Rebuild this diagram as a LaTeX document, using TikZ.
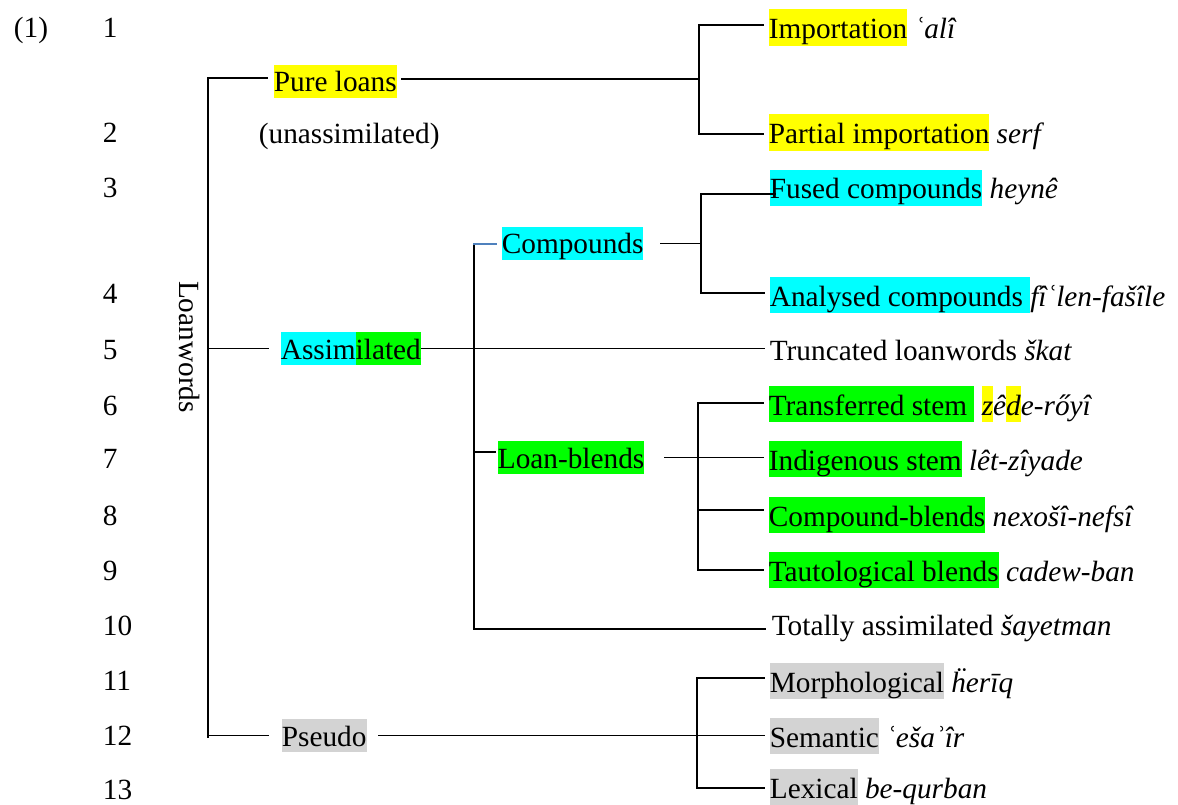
\documentclass[tikz,border=0pt]{standalone}
\usepackage{fontspec}
\setmainfont{Liberation Serif}

\definecolor{hlyellow}{HTML}{FFFF00}
\definecolor{hlcyan}{HTML}{00FFFF}
\definecolor{hlgreen}{HTML}{00FF00}
\definecolor{hlgray}{HTML}{D3D3D3}
\definecolor{stubblue}{HTML}{4F81BD}

% highlight boxes (leaves and inner labels)
\newcommand{\hl}[2]{{\setlength{\fboxsep}{0pt}\colorbox{#1}{\rule[-0.25em]{0pt}{1.25em}#2}}}
\newcommand{\hlmid}[2]{{\setlength{\fboxsep}{0pt}\colorbox{#1}{\rule[-0.2em]{0pt}{1.12em}#2}}}

\begin{document}
\begin{tikzpicture}[x=1pt, y=-1pt, line width=1.7pt, line cap=rect,
  every node/.style={font=\fontsize{29.3}{35}\selectfont, inner sep=0pt},
  txt/.style={anchor=base west},
  branch/.style={shorten >=5pt},
  bluestub/.style={draw=stubblue, line width=1.3pt}]

  \useasboundingbox (0,0) rectangle (1178,805);

  % Example number and row numbers
  \node[txt] (ex)  at (13,38)  {(1)};
  \node[txt] (r1)  at (102,38)  {1};
  \node[txt] (r2)  at (102,143) {2};
  \node[txt] (r3)  at (102,198) {3};
  \node[txt] (r4)  at (102,303) {4};
  \node[txt] (r5)  at (102,359) {5};
  \node[txt] (r6)  at (102,415) {6};
  \node[txt] (r7)  at (102,468) {7};
  \node[txt] (r8)  at (102,525) {8};
  \node[txt] (r9)  at (102,580) {9};
  \node[txt] (r10) at (102,635) {10};
  \node[txt] (r11) at (102,690) {11};
  \node[txt] (r12) at (102,745) {12};
  \node[txt] (r13) at (102,799) {13};

  % Root
  \node[rotate=-90] (lw) at (190,347) {Loanwords};

  % First level
  \node[txt] (pure)    at (273,92)  {\hlmid{hlyellow}{Pure loans}};
  \node[txt] (unassim) at (258,144) {(unassimilated)};
  \node[txt] (assim)   at (280,359) {\hlmid{hlcyan}{Assim}\hlmid{hlgreen}{ilated}};
  \node[txt] (pseudo)  at (281,746) {\hlmid{hlgray}{Pseudo}};

  % Second level
  \node[txt] (comp)  at (501,254) {\hlmid{hlcyan}{Compounds}};
  \node[txt] (blend) at (497,468) {\hlmid{hlgreen}{Loan-blends}};

  % Leaves
  \node[txt] (imp)    at (768,38.5)  {\hl{hlyellow}{Importation}\ \textit{ʿalî}};
  \node[txt] (part)   at (768,143.5) {\hl{hlyellow}{Partial importation}\ \textit{serf}};
  \node[txt] (fused)  at (769,199)   {\hl{hlcyan}{Fused compounds}\ \textit{heynê}};
  \node[txt] (anal)   at (769,306)   {\hl{hlcyan}{Analysed compounds\ }\textit{fîʿlen-fašîle}};
  \node[txt] (trunc)  at (769,360)   {Truncated loanwords \textit{škat}};
  \node[txt] (trans)  at (768,415)   {\hl{hlgreen}{Transferred stem\ }\ \textit{\hl{hlyellow}{z}ê\hl{hlyellow}{d}e-rőyî}};
  \node[txt] (indig)  at (768,470)   {\hl{hlgreen}{Indigenous stem}\ \textit{lêt-zîyade}};
  \node[txt] (cblend) at (768,526)   {\hl{hlgreen}{Compound-blends}\ \textit{nexošî-nefsî}};
  \node[txt] (taut)   at (768,581)   {\hl{hlgreen}{Tautological blends}\ \textit{cadew-ban}};
  \node[txt] (total)  at (771,635)   {Totally assimilated \textit{šayetman}};
  \node[txt] (morph)  at (769,692)   {\hl{hlgray}{Morphological}\ \textit{ḧerīq}};
  \node[txt] (sem)    at (769,747)   {\hl{hlgray}{Semantic}\ \textit{ʿešaʾîr}};
  \node[txt] (lex)    at (769,798)   {\hl{hlgray}{Lexical}\ \textit{be-qurban}};

  % Loanwords bracket
  \coordinate (lw-t) at (208,78);
  \coordinate (lw-b) at (208,737);
  \draw (lw-t) -- (lw-b);
  \draw[shorten >=6pt] (lw-t) -- (lw-t -| pure.west);
  \draw[shorten >=12pt] (lw-t |- assim.west) -- (assim.west);
  \draw[shorten >=13pt] (lw-t |- pseudo.west) -- (pseudo.west);

  % Pure loans bracket
  \coordinate (pl-t) at (699,25);
  \coordinate (pl-in) at (699,79);
  \coordinate (pl-b) at (699,134);
  \draw (pl-t) -- (pl-b);
  \draw[shorten <=4pt] (pure.east |- pl-in) -- (pl-in);
  \draw[branch] (pl-t) -- (pl-t -| imp.west);
  \draw[branch] (pl-b) -- (pl-b -| part.west);

  % Assimilated bracket
  \coordinate (as-t) at (474,244);
  \coordinate (as-l) at (474,452);
  \coordinate (as-b) at (474,629);
  \draw (as-t) -- (as-b);
  \draw[branch] (assim.east) -- (assim.east -| trunc.west);
  \draw[bluestub, shorten >=5pt] (as-t) -- (as-t -| comp.west);
  \draw[shorten >=2pt] (as-l) -- (as-l -| blend.west);
  \draw[shorten >=6pt] (as-b) -- (as-b -| total.west);

  % Compounds bracket
  \coordinate (cp-t) at (701,194);
  \coordinate (cp-b) at (701,293);
  \draw (cp-t) -- (cp-b);
  \draw[shorten <=17pt] (comp.east) -- (comp.east -| cp-t);
  \draw[shorten >=-6pt] (cp-t) -- (cp-t -| fused.west);
  \draw[branch] (cp-b) -- (cp-b -| anal.west);

  % Loan-blends bracket
  \coordinate (lb-t) at (698,403);
  \coordinate (lb-c) at (698,510);
  \coordinate (lb-b) at (698,570);
  \draw (lb-t) -- (lb-b);
  \draw[branch, shorten <=20pt] (blend.east) -- (blend.east -| indig.west);
  \draw[branch] (lb-t) -- (lb-t -| trans.west);
  \draw[branch] (lb-c) -- (lb-c -| cblend.west);
  \draw[branch] (lb-b) -- (lb-b -| taut.west);

  % Pseudo bracket
  \coordinate (ps-t) at (697,678);
  \coordinate (ps-b) at (697,788);
  \draw (ps-t) -- (ps-b);
  \draw[branch, shorten <=11pt] (pseudo.east) -- (pseudo.east -| sem.west);
  \draw[branch] (ps-t) -- (ps-t -| morph.west);
  \draw[branch] (ps-b) -- (ps-b -| lex.west);

\end{tikzpicture}
\end{document}
